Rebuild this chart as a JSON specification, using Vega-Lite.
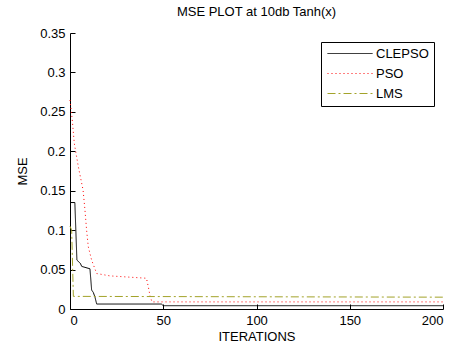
{
  "$schema": "https://vega.github.io/schema/vega-lite/v6.json",
  "width": 373,
  "height": 276,
  "autosize": {"type": "none"},
  "padding": {"left": 70, "top": 33, "right": 24, "bottom": 42},
  "background": "white",
  "title": {"text": "MSE PLOT at 10db Tanh(x)", "fontSize": 13, "font": "Liberation Sans", "fontWeight": "normal", "color": "#000000", "frame": "group", "anchor": "middle", "offset": 8},
  "config": {
    "view": {"stroke": null},
    "axis": {"grid": false, "domainColor": "#000000", "tickColor": "#000000", "labelColor": "#000000", "titleColor": "#000000", "labelFont": "Liberation Sans", "titleFont": "Liberation Sans", "labelFontSize": 13, "titleFontSize": 13, "titleFontWeight": "normal", "tickSize": -5, "labelPadding": 10, "domainWidth": 1, "tickWidth": 1}
  },
  "data": {"values": [
    {"series": "CLEPSO", "iter": 0, "mse": 0.135},
    {"series": "CLEPSO", "iter": 2.6, "mse": 0.135},
    {"series": "CLEPSO", "iter": 3.7, "mse": 0.062},
    {"series": "CLEPSO", "iter": 5.5, "mse": 0.058},
    {"series": "CLEPSO", "iter": 6.3, "mse": 0.054},
    {"series": "CLEPSO", "iter": 10.7, "mse": 0.051},
    {"series": "CLEPSO", "iter": 11.6, "mse": 0.024},
    {"series": "CLEPSO", "iter": 12.5, "mse": 0.021},
    {"series": "CLEPSO", "iter": 13.4, "mse": 0.015},
    {"series": "CLEPSO", "iter": 14.3, "mse": 0.0063},
    {"series": "CLEPSO", "iter": 49, "mse": 0.0063},
    {"series": "CLEPSO", "iter": 50, "mse": 0.0042},
    {"series": "CLEPSO", "iter": 200, "mse": 0.0042},
    {"series": "PSO", "iter": 0, "mse": 0.265},
    {"series": "PSO", "iter": 1.2, "mse": 0.24},
    {"series": "PSO", "iter": 2.3, "mse": 0.21},
    {"series": "PSO", "iter": 4.5, "mse": 0.18},
    {"series": "PSO", "iter": 7, "mse": 0.151},
    {"series": "PSO", "iter": 8, "mse": 0.126},
    {"series": "PSO", "iter": 8.9, "mse": 0.1},
    {"series": "PSO", "iter": 9.8, "mse": 0.079},
    {"series": "PSO", "iter": 11.6, "mse": 0.062},
    {"series": "PSO", "iter": 14.3, "mse": 0.045},
    {"series": "PSO", "iter": 21.4, "mse": 0.042},
    {"series": "PSO", "iter": 41, "mse": 0.039},
    {"series": "PSO", "iter": 42, "mse": 0.028},
    {"series": "PSO", "iter": 43, "mse": 0.0156},
    {"series": "PSO", "iter": 44, "mse": 0.009},
    {"series": "PSO", "iter": 200, "mse": 0.009},
    {"series": "LMS", "iter": 0, "mse": 0.105},
    {"series": "LMS", "iter": 0.9, "mse": 0.1},
    {"series": "LMS", "iter": 1.8, "mse": 0.016},
    {"series": "LMS", "iter": 200, "mse": 0.015}
  ]},
  "mark": {"type": "line", "strokeWidth": 1},
  "encoding": {
    "x": {"field": "iter", "type": "quantitative", "scale": {"domain": [0, 200], "nice": false}, "axis": {"title": "ITERATIONS", "values": [0, 50, 100, 150, 200], "titlePadding": 3}},
    "y": {"field": "mse", "type": "quantitative", "scale": {"domain": [0, 0.35], "nice": false}, "axis": {"title": "MSE", "values": [0, 0.05, 0.1, 0.15, 0.2, 0.25, 0.3, 0.35], "format": "~g", "titlePadding": 10}},
    "color": {"field": "series", "type": "nominal", "scale": {"domain": ["CLEPSO", "PSO", "LMS"], "range": ["#000000", "#ff0000", "#a3a32a"]},
      "legend": {"title": null, "orient": "none", "legendX": 251, "legendY": 9, "symbolType": "M-1,0H8", "symbolSize": 100, "symbolStrokeWidth": 1, "labelOffset": 37, "labelFontSize": 13, "labelFont": "Liberation Sans", "labelColor": "#000000", "padding": 5, "rowPadding": 6, "strokeColor": "#000000", "fillColor": "#ffffff"}},
    "strokeDash": {"field": "series", "type": "nominal", "scale": {"domain": ["CLEPSO", "PSO", "LMS"], "range": [[1, 0], [1, 3], [8, 3, 2, 3]]},
      "legend": {"title": null, "orient": "none", "legendX": 251, "legendY": 9, "symbolType": "M-1,0H8", "symbolSize": 100, "symbolStrokeWidth": 1, "labelOffset": 37, "labelFontSize": 13, "labelFont": "Liberation Sans", "labelColor": "#000000", "padding": 5, "rowPadding": 6, "strokeColor": "#000000", "fillColor": "#ffffff"}}
  }
}
